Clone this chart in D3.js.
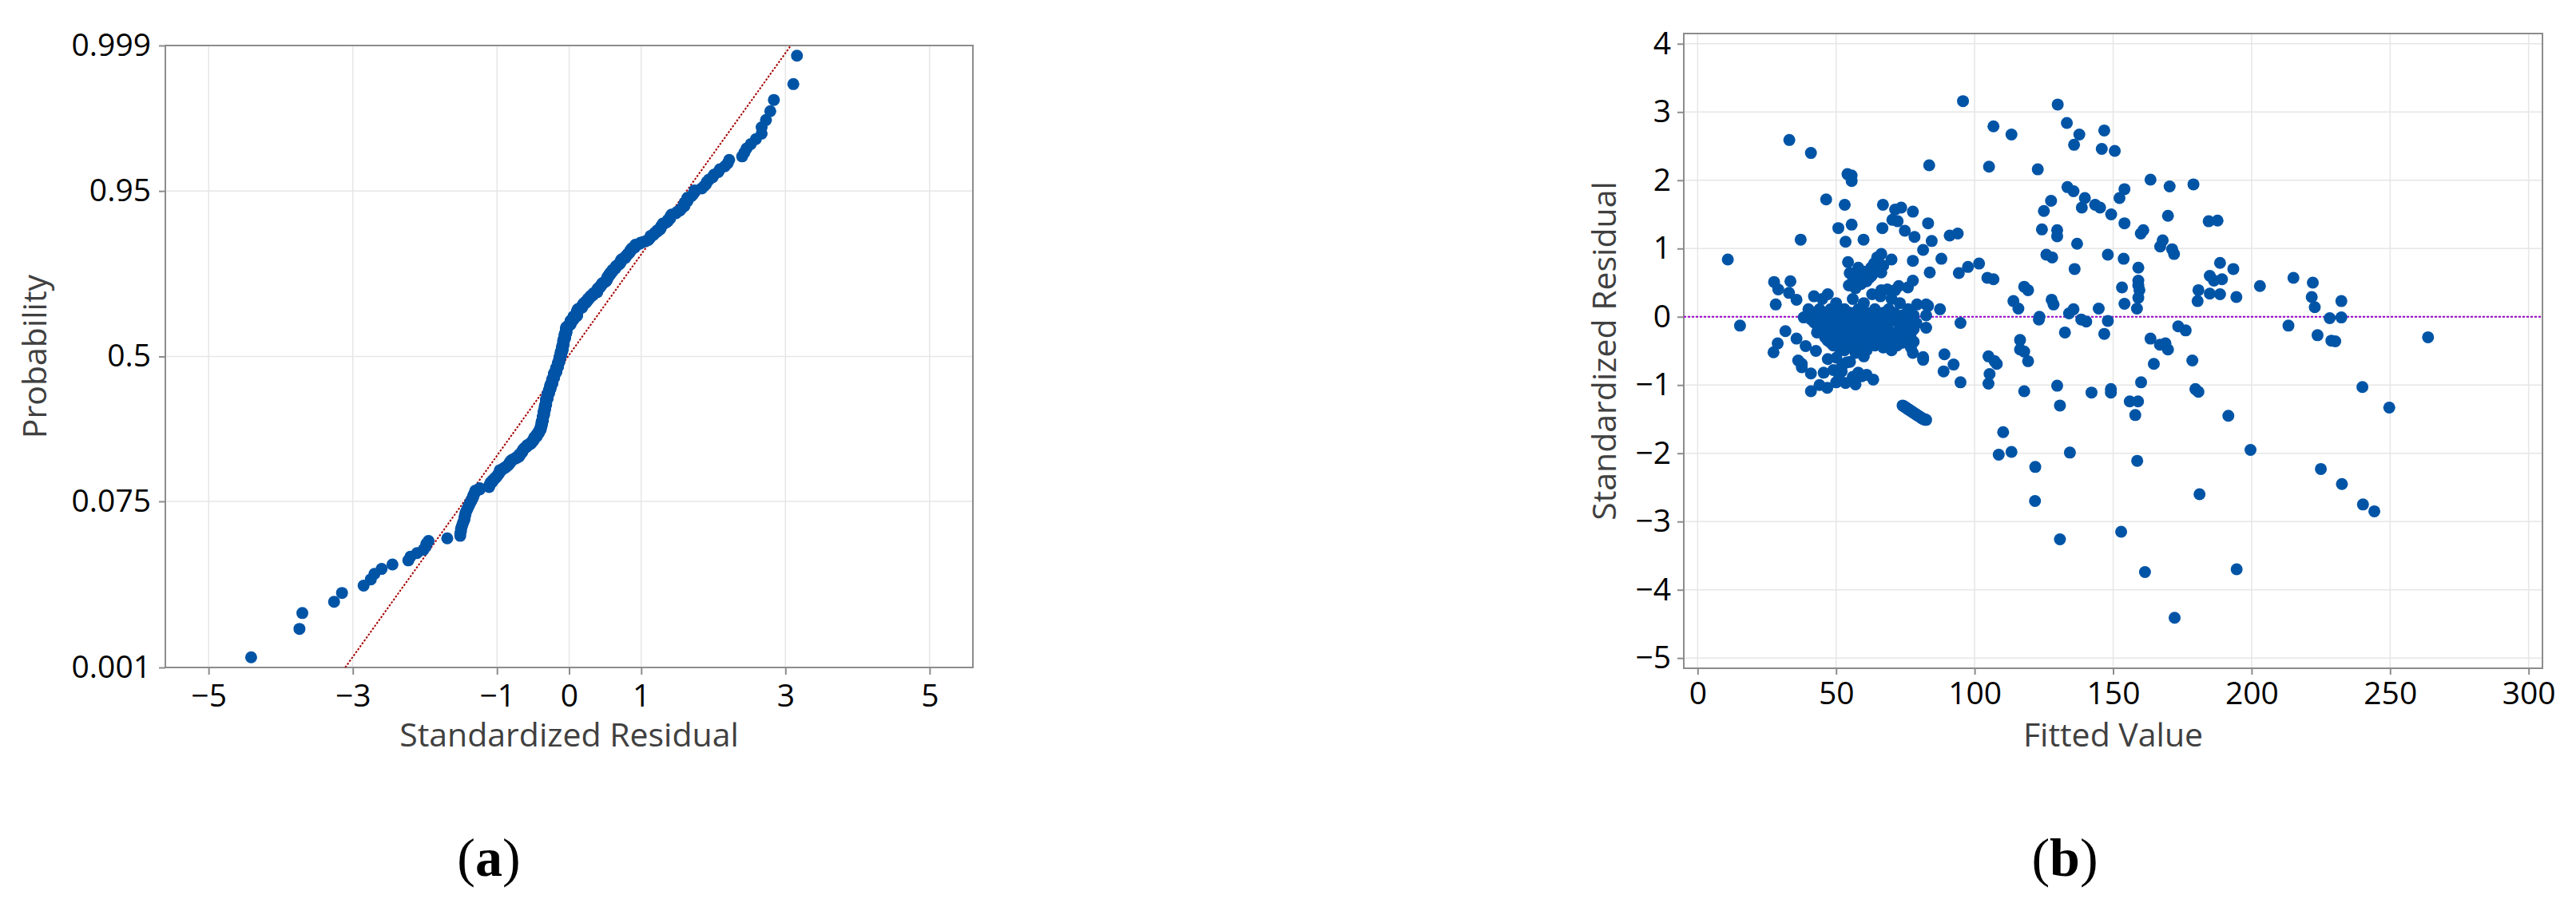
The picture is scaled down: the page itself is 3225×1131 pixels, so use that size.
<!DOCTYPE html>
<html><head><meta charset="utf-8">
<script src="https://cdn.jsdelivr.net/npm/d3@7"></script>
<style>
body{margin:0;background:#fff}
svg{display:block}
</style></head><body>
<svg id="chart" width="3225" height="1131"></svg>
<script>
// ---------------- DATA ----------------
// Tick values / labels
const probTicks = [0.001, 0.075, 0.5, 0.95, 0.999];
const probLabels = ["0.001", "0.075", "0.5", "0.95", "0.999"];
const residTicks = [-5, -3, -1, 0, 1, 3, 5];
const fittedTicks = [0, 50, 100, 150, 200, 250, 300];
const stdResTicks = [-5, -4, -3, -2, -1, 0, 1, 2, 3, 4];

// Fitted normal reference line of the probability plot (mean, sd)
const fitMean = -0.015, fitSd = 1.0;

// Points [fitted value, standardized residual]
const upperPoints = [
[95.8,3.16],[130,3.11],[133.3,2.84],[106.8,2.79],[146.8,2.73],[137.8,2.67],[113.3,2.67],[33.1,2.59],
[135.9,2.52],[145.9,2.46],[150.6,2.43],[40.9,2.40],[83.6,2.22],[105.2,2.20],[122.8,2.16],[54.1,2.09],
[55.6,2.07],[163.5,2.01],[55.6,1.99],[179,1.94],[170.4,1.91],[133.5,1.90],[154.1,1.87],[135.7,1.84],
[152.3,1.74],[139.8,1.74],[46.4,1.72],[127.6,1.70],[53.1,1.64],[66.9,1.64],[143.5,1.64],[145.3,1.60],
[138.7,1.60],[73.5,1.60],[71.3,1.57],[125,1.55],[77.7,1.54],[149.3,1.50],[169.8,1.48],[70.3,1.42],
[187.7,1.41],[72.2,1.40],[184.5,1.40],[154.1,1.37],[83.2,1.37],[55.6,1.35],[50.8,1.30],[66.7,1.30],
[124.3,1.28],[129.8,1.27],[160.9,1.27],[74.8,1.26],[160,1.22],[93.9,1.22],[91,1.19],[129.8,1.18],
[78.3,1.17],[37.2,1.13],[59.9,1.13],[167.9,1.12],[84.5,1.11],[53.4,1.10],[137,1.07],[167,1.03],
[171.3,0.99],[81.4,0.98],[172,0.92],[66.3,0.92],[125.9,0.91],[148.1,0.91],[64.8,0.87],[128,0.87],
[88,0.85],[153.8,0.85],[10.9,0.84],[70,0.84],[77.7,0.82],[54.3,0.80],[188.6,0.79],[101.6,0.78],
[63.7,0.78],[97.6,0.73],[62.6,0.72],[159.1,0.72],[65.8,0.71],[193.4,0.70],[136.1,0.70],[83.8,0.65],
[66.3,0.65],[94.3,0.64],[54.9,0.64],[56.5,0.60],[62.8,0.60],[184.9,0.60],[58.8,0.59],[104.6,0.57],
[215.1,0.57],[106.8,0.55],[60.4,0.55],[189.3,0.55],[186.4,0.53],[159.1,0.53],[77.7,0.53],[33.5,0.52],
[27.6,0.51],[222.1,0.50],[159.1,0.46],[54.6,0.46],[203,0.45],[72.6,0.45],[117.9,0.44],[153.2,0.43],
[75.9,0.43],[29.1,0.40],[68.5,0.40],[180.8,0.39],[119.3,0.39],[159.5,0.39],[66.3,0.39],[71.3,0.39]
];
const armPoints = [
[57,0.42],[59,0.48],[61,0.52],[63,0.62],[64,0.68],[60,0.66],[67,0.75],[58,0.72],[65,0.81],[62,0.57],[56,0.52]
];
const nearZeroPoints = [
[184.9,0.34],[188.6,0.33],[194.5,0.29],[221.7,0.29],[159.1,0.28],[180.5,0.23],[232.4,0.23],[154.1,0.19],
[222.8,0.14],[158.6,0.12],[144.8,0.12],[127.8,0.25],[128.5,0.18],[114,0.23],[115.8,0.12],[123.4,0.00],
[134.1,0.05],[135.7,0.11],[87.5,0.11],[79.2,0.18],[82.5,0.18],[83.2,0.16],[82.5,0.02],[33,0.35],
[28.2,0.18],[35.7,0.25],[232.4,-0.01],[228.2,-0.02],[38.3,-0.01]
];
const lowerPoints = [
[148.1,-0.06],[123.2,-0.04],[138.5,-0.04],[140.3,-0.07],[94.9,-0.09],
[213.3,-0.13],[173.5,-0.14],[15.3,-0.13],[82.5,-0.16],
[176.2,-0.20],[31.7,-0.21],[132.6,-0.23],[43.1,-0.23],[146.8,-0.25],[223.8,-0.27],
[263.7,-0.30],[163.5,-0.32],[35.7,-0.32],[116.4,-0.34],
[228.8,-0.35],[230.2,-0.36],[168.9,-0.39],[28.9,-0.39],
[166.9,-0.41],[39,-0.43],[116.4,-0.48],[169.8,-0.48],[42.7,-0.50],[117.9,-0.51],[27.4,-0.52],[77.7,-0.53],[89.1,-0.55],
[105,-0.58],[81.4,-0.59],[50.1,-0.60],[81.4,-0.63],[178.6,-0.64],[36.3,-0.64],[119.3,-0.65],[107.2,-0.65],
[53.8,-0.67],[164.7,-0.69],[108,-0.69],[37.6,-0.69],[92.4,-0.70],
[51.9,-0.74],[37.6,-0.74],[88.8,-0.80],[58,-0.82],[45.5,-0.82],[40.9,-0.83],[105.4,-0.84],[59.3,-0.87],[51,-0.91],[63.4,-0.92],
[160.1,-0.96],[94.9,-0.96],[53.4,-0.97],[105,-0.98],[129.8,-1.01],[240,-1.03],[46.8,-1.04],[149.2,-1.06],
[179.7,-1.06],[117.9,-1.09],[40.9,-1.09],[180.8,-1.10],[149.2,-1.11],[142.2,-1.11],
[156,-1.24],[159,-1.24],
[130.8,-1.30],[249.7,-1.33],[158,-1.44],[191.6,-1.45],
[110.3,-1.69],[199.6,-1.95],[113.3,-1.98],[134.4,-1.99],[108.7,-2.02],[158.7,-2.11],
[121.9,-2.20],[225,-2.23],[232.6,-2.45],[181.2,-2.60],[121.8,-2.70],[240.2,-2.75],[244.3,-2.85],
[152.9,-3.15],[130.8,-3.26],[194.6,-3.70],[161.5,-3.74],[172.2,-4.41]
];
const diagonalPoints = [
[74.0,-1.30],[74.4,-1.31],[74.8,-1.32],[75.1,-1.33],[75.5,-1.34],[75.9,-1.35],[76.2,-1.36],[76.6,-1.37],
[77.0,-1.38],[77.4,-1.39],[77.7,-1.40],[78.1,-1.41],[78.5,-1.42],[78.9,-1.43],[79.2,-1.44],[79.6,-1.45],
[80.0,-1.46],[80.4,-1.47],[80.7,-1.48],[81.1,-1.49],[81.5,-1.50],[81.9,-1.50],[82.2,-1.51],[82.5,-1.51]
];
// Dense cluster: [residual, [fitted values at that residual]]
const clusterRows = [
[0.33,[47,63]],
[0.30,[42,66]],
[0.26,[45,56,70]],
[0.20,[50,60,73]],
[0.11,[40,44,48,53,58,64,69,76]],
[0.06,[42,46,51,55,61,67,71]],
[0.02,[43,49,54,57,63,74,78]],
[-0.04,[41,44,47,50,52,55,58,61,65,70,76]],
[-0.06,[43,46,49,53,56,60,63,67,72,78]],
[-0.08,[42,45,48,51,54,57,59,62,66,74,77]],
[-0.095,[44,47,50,52,55,58,60,64,69,75,79]],
[-0.115,[43,46,49,52,54,57,60,63,68,76]],
[-0.135,[44,47,50,53,56,59,62,66,77]],
[-0.155,[45,48,51,54,57,61,64,73,78]],
[-0.18,[44,47,50,53,55,58,61,65,74,78]],
[-0.21,[45,48,51,54,56,59,63,67,76]],
[-0.235,[46,49,52,55,57,60,64,70,77]],
[-0.26,[47,50,53,56,59,62,66,72,75]],
[-0.28,[48,51,54,58,61,68,76]],
[-0.30,[46,49,52,55,57,60,64,70,74]],
[-0.32,[47,50,53,56,59,63,67,72,77]],
[-0.335,[48,51,54,58,62,66,69,75]],
[-0.35,[47,50,53,56,60,65,71,76]],
[-0.365,[49,52,55,58,63,68,73,78]],
[-0.38,[48,51,54,57,61,66,74]],
[-0.395,[50,53,56,62,69]],
[-0.42,[49,55,64,72]],
[-0.45,[51,58,67,77]],
[-0.49,[53,61,70]],
[-0.53,[57]],
[-0.58,[60]],[-0.62,[47]],[-0.66,[55]],
[-0.78,[49]],[-0.80,[52]],[-0.85,[61]],[-0.88,[56]],
[-0.96,[50]],[-0.99,[57]],[-1.0,[44]]
];

// ---------------- HELPERS ----------------
function normInv(p){
  const a=[-3.969683028665376e+01,2.209460984245205e+02,-2.759285104469687e+02,1.383577518672690e+02,-3.066479806614716e+01,2.506628277459239e+00];
  const b=[-5.447609879822406e+01,1.615858368580409e+02,-1.556989798598866e+02,6.680131188771972e+01,-1.328068155288572e+01];
  const c=[-7.784894002430293e-03,-3.223964580411365e-01,-2.400758276161838e+00,-2.549671010229583e+00,4.374664141464968e+00,2.938163982698783e+00];
  const d=[7.784695709041462e-03,3.224671290700398e-01,2.445134137142996e+00,3.754408661907416e+00];
  const pl=0.02425, ph=1-pl; let q,r;
  if(p<pl){q=Math.sqrt(-2*Math.log(p));return (((((c[0]*q+c[1])*q+c[2])*q+c[3])*q+c[4])*q+c[5])/((((d[0]*q+d[1])*q+d[2])*q+d[3])*q+1);}
  if(p<=ph){q=p-0.5;r=q*q;return (((((a[0]*r+a[1])*r+a[2])*r+a[3])*r+a[4])*r+a[5])*q/(((((b[0]*r+b[1])*r+b[2])*r+b[3])*r+b[4])*r+1);}
  q=Math.sqrt(-2*Math.log(1-p));return -(((((c[0]*q+c[1])*q+c[2])*q+c[3])*q+c[4])*q+c[5])/((((d[0]*q+d[1])*q+d[2])*q+d[3])*q+1);
}

const clusterPoints = clusterRows.flatMap(([r, fs]) => fs.map(f => [f, r]));
const allPoints = [].concat(upperPoints, armPoints, nearZeroPoints, lowerPoints, diagonalPoints, clusterPoints);
const n = allPoints.length;
const sortedRes = allPoints.map(d => d[1]).sort((a, b) => a - b);
const probPoints = sortedRes.map((r, i) => [r, normInv((i + 1 - 0.3) / (n + 0.4))]);

// ---------------- STYLE ----------------
const DOT = "#0054a6", FRAME = "#8c8c8c", GRID = "#e6e6e6";
const TICKFONT = "'Open Sans', 'Noto Sans', sans-serif";
const R = 7.5;
const svg = d3.select("#chart");

function styleAxis(g, fs){
  g.select(".domain").remove();
  g.selectAll(".tick line").attr("stroke", FRAME).attr("stroke-width", 2);
  g.selectAll(".tick text").attr("fill", "#000").style("font-family", TICKFONT).style("font-size", fs + "px");
}

// ---------------- PANEL (a) ----------------
const A = {x0: 207, x1: 1218, y0: 57, y1: 836};
const xA = d3.scaleLinear().domain([-5.6, 5.6]).range([A.x0, A.x1]);
const zMax = normInv(0.999);
const yA = d3.scaleLinear().domain([-zMax, zMax]).range([A.y1, A.y0]);
const gA = svg.append("g");
const probZ = probTicks.map(normInv);

gA.append("g").selectAll("line").data(residTicks).join("line")
  .attr("x1", d => xA(d)).attr("x2", d => xA(d)).attr("y1", A.y0).attr("y2", A.y1)
  .attr("stroke", GRID).attr("stroke-width", 1.5);
gA.append("g").selectAll("line").data(probZ).join("line")
  .attr("x1", A.x0).attr("x2", A.x1).attr("y1", d => yA(d)).attr("y2", d => yA(d))
  .attr("stroke", GRID).attr("stroke-width", 1.5);

gA.append("g").attr("transform", `translate(0,${A.y1})`)
  .call(d3.axisBottom(xA).tickValues(residTicks).tickFormat(d3.format("d")).tickSize(9).tickPadding(12))
  .call(g => styleAxis(g, 39));
gA.append("g").attr("transform", `translate(${A.x0},0)`)
  .call(d3.axisLeft(yA).tickValues(probZ).tickFormat((d, i) => probLabels[i]).tickSize(8).tickPadding(10))
  .call(g => styleAxis(g, 39));

gA.append("rect").attr("x", A.x0).attr("y", A.y0).attr("width", A.x1 - A.x0).attr("height", A.y1 - A.y0)
  .attr("fill", "none").attr("stroke", FRAME).attr("stroke-width", 2);

gA.append("line")
  .attr("x1", xA(fitMean + fitSd * -zMax)).attr("y1", yA(-zMax))
  .attr("x2", xA(fitMean + fitSd * zMax)).attr("y2", yA(zMax))
  .attr("stroke", "#a40000").attr("stroke-width", 2).attr("stroke-dasharray", "2.5,2");

gA.append("g").selectAll("circle").data(probPoints).join("circle")
  .attr("cx", d => xA(d[0])).attr("cy", d => yA(d[1])).attr("r", R).attr("fill", DOT);

gA.append("text").attr("x", (A.x0 + A.x1) / 2).attr("y", 935).attr("text-anchor", "middle")
  .style("font-family", TICKFONT).style("font-size", "41px").attr("fill", "#404040").text("Standardized Residual");
gA.append("text").attr("transform", `translate(58,${(A.y0 + A.y1) / 2}) rotate(-90)`).attr("text-anchor", "middle")
  .style("font-family", TICKFONT).style("font-size", "41px").attr("fill", "#404040").text("Probability");

// ---------------- PANEL (b) ----------------
const B = {x0: 2108, x1: 3183, y0: 42, y1: 837};
const xB = d3.scaleLinear().domain([-5, 305]).range([B.x0, B.x1]);
const yB = d3.scaleLinear().domain([-5.15, 4.15]).range([B.y1, B.y0]);
const gB = svg.append("g");

gB.append("g").selectAll("line").data(fittedTicks).join("line")
  .attr("x1", d => xB(d)).attr("x2", d => xB(d)).attr("y1", B.y0).attr("y2", B.y1)
  .attr("stroke", GRID).attr("stroke-width", 1.5);
gB.append("g").selectAll("line").data(stdResTicks).join("line")
  .attr("x1", B.x0).attr("x2", B.x1).attr("y1", d => yB(d)).attr("y2", d => yB(d))
  .attr("stroke", GRID).attr("stroke-width", 1.5);

gB.append("g").attr("transform", `translate(0,${B.y1})`)
  .call(d3.axisBottom(xB).tickValues(fittedTicks).tickFormat(d3.format("d")).tickSize(8).tickPadding(9))
  .call(g => styleAxis(g, 39));
gB.append("g").attr("transform", `translate(${B.x0},0)`)
  .call(d3.axisLeft(yB).tickValues(stdResTicks).tickFormat(d3.format("d")).tickSize(8).tickPadding(8))
  .call(g => styleAxis(g, 39));

gB.append("rect").attr("x", B.x0).attr("y", B.y0).attr("width", B.x1 - B.x0).attr("height", B.y1 - B.y0)
  .attr("fill", "none").attr("stroke", FRAME).attr("stroke-width", 2);

gB.append("line").attr("x1", B.x0).attr("x2", B.x1).attr("y1", yB(0)).attr("y2", yB(0))
  .attr("stroke", "#9b00cc").attr("stroke-width", 2).attr("stroke-dasharray", "3,2");

gB.append("g").selectAll("circle").data(allPoints).join("circle")
  .attr("cx", d => xB(d[0])).attr("cy", d => yB(d[1])).attr("r", R).attr("fill", DOT);

gB.append("text").attr("x", (B.x0 + B.x1) / 2).attr("y", 935).attr("text-anchor", "middle")
  .style("font-family", TICKFONT).style("font-size", "41px").attr("fill", "#404040").text("Fitted Value");
gB.append("text").attr("transform", `translate(2023,${(B.y0 + B.y1) / 2}) rotate(-90)`).attr("text-anchor", "middle")
  .style("font-family", TICKFONT).style("font-size", "41px").attr("fill", "#404040").text("Standardized Residual");

// ---------------- CAPTIONS ----------------
function caption(x, letter){
  const t = svg.append("text").attr("x", x).attr("y", 1097).attr("text-anchor", "middle")
    .style("font-family", "'Liberation Serif', 'DejaVu Serif', serif").style("font-size", "68px").attr("fill", "#000");
  t.append("tspan").text("(");
  t.append("tspan").style("font-weight", "bold").text(letter);
  t.append("tspan").text(")");
}
caption(612, "a");
caption(2585, "b");
</script>
</body></html>
